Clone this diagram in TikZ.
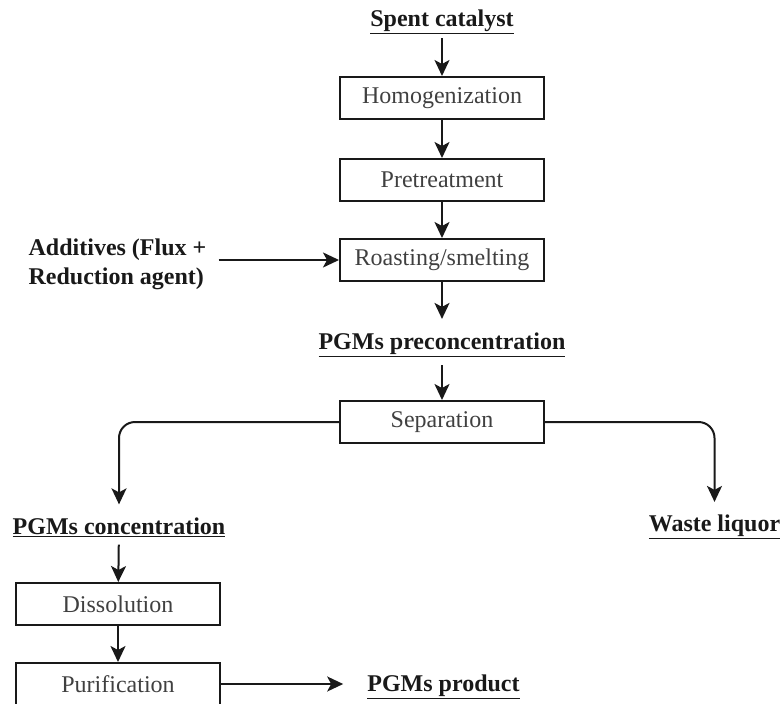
\documentclass[tikz,border=0pt]{standalone}
\usepackage{fontspec}
\setmainfont{Liberation Serif}
\usetikzlibrary{arrows.meta}
\begin{document}
\begin{tikzpicture}[x=1pt,y=-1pt,
  procbox/.style={draw=black!90, line width=2pt, minimum width=204pt, minimum height=42pt, inner sep=0pt,
    font=\fontsize{24}{27}\selectfont, text=black!75},
  lbl/.style={font=\fontsize{24}{29}\selectfont\bfseries, text=black!90, inner sep=0pt},
  arr/.style={draw=black!90, line width=2pt, -{Stealth[length=16pt,width=15pt,inset=4pt]}}]
\useasboundingbox (0,0) rectangle (782,704);
\node[lbl] (sc) at (442,22) {\underline{Spent catalyst}};
\node[procbox] (homo) at (442,98) {Homogenization};
\node[procbox] (pre) at (442,180) {Pretreatment};
\node[procbox] (roast) at (442,260) {Roasting/smelting};
\node[lbl, align=left] (add) at (117.5,264) {Additives (Flux +\\Reduction agent)};
\node[lbl] (pc) at (442,345) {\underline{PGMs preconcentration}};
\node[procbox] (sep) at (442,422) {Separation};
\node[lbl] (conc) at (119,527) {\underline{PGMs concentration}};
\node[lbl] (waste) at (714.5,527) {\underline{Waste liquor}};
\node[procbox] (diss) at (118,604) {Dissolution};
\node[procbox] (pur) at (118,684) {Purification};
\node[lbl] (prod) at (443.5,687) {\underline{PGMs product}};
\draw[arr, shorten <=4pt] (sc) -- (homo);
\draw[arr] (homo) -- (pre);
\draw[arr] (pre) -- (roast);
\draw[arr, shorten <=12pt] (add.east |- roast.west) -- (roast.west);
\draw[arr, shorten >=14pt] (roast) -- (pc);
\draw[arr, shorten <=8pt] (pc) -- (sep);
\draw[arr, rounded corners=16pt, shorten >=13pt] (sep.west) -| (conc.north);
\draw[arr, rounded corners=16pt, shorten >=13pt] (sep.east) -| (waste.north);
\draw[arr, shorten <=8pt] (conc) -- (diss);
\draw[arr] (diss) -- (pur);
\draw[arr, shorten >=24pt] (pur.east) -- (pur.east -| prod.west);
\end{tikzpicture}
\end{document}
